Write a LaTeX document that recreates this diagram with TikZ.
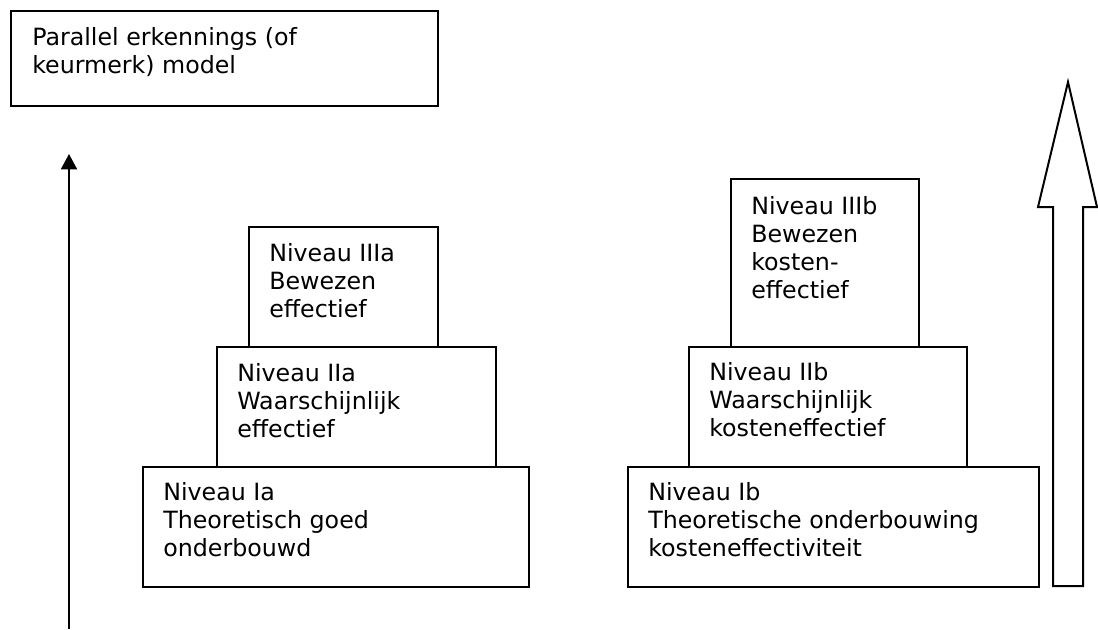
\documentclass[tikz,border=0pt]{standalone}
\usepackage{fontspec}
\setmainfont{DejaVu Sans}
\usetikzlibrary{arrows.meta}

\begin{document}
\begin{tikzpicture} [x = 0.75pt, y = -0.75pt,
     niveau/.style = {draw, line width=1.5pt, anchor=north west, inner sep=0pt},
     tekst/.style = {anchor=north west, inner sep=0pt, align=left,
          font=\fontsize{17.8pt}{21pt}\selectfont}]
     \useasboundingbox (0,0) rectangle (1098,629);

     % kader bovenaan
     \node [niveau, minimum width=427*0.75pt, minimum height=95*0.75pt] (model) at (10,10) {};
     \node [tekst] (model tekst) at ([shift={(22,17)}]model.north west) {Parallel erkennings (of\\keurmerk) model};

     % linker piramide
     \node [niveau, minimum width=386*0.75pt, minimum height=120*0.75pt] (ia) at (142,466) {};
     \node [niveau, minimum width=279*0.75pt, minimum height=120*0.75pt] (iia) at (216,346) {};
     \node [niveau, minimum width=189*0.75pt, minimum height=120*0.75pt] (iiia) at (248,226) {};
     \node [tekst] (ia tekst) at ([shift={(21,16)}]ia.north west) {Niveau Ia\\Theoretisch goed\\onderbouwd};
     \node [tekst] (iia tekst) at ([shift={(21,17)}]iia.north west) {Niveau IIa\\Waarschijnlijk\\effectief};
     \node [tekst] (iiia tekst) at ([shift={(21,17)}]iiia.north west) {Niveau IIIa\\Bewezen\\effectief};

     % rechter piramide
     \node [niveau, minimum width=411*0.75pt, minimum height=120*0.75pt] (ib) at (627,466) {};
     \node [niveau, minimum width=278*0.75pt, minimum height=120*0.75pt] (iib) at (688,346) {};
     \node [niveau, minimum width=188*0.75pt, minimum height=168*0.75pt] (iiib) at (730,178) {};
     \node [tekst] (ib tekst) at ([shift={(21,16)}]ib.north west) {Niveau Ib\\Theoretische onderbouwing\\kosteneffectiviteit};
     \node [tekst] (iib tekst) at ([shift={(21,16)}]iib.north west) {Niveau IIb\\Waarschijnlijk\\kosteneffectief};
     \node [tekst] (iiib tekst) at ([shift={(21,18)}]iiib.north west) {Niveau IIIb\\Bewezen\\kosten-\\effectief};

     % pijlen
     \coordinate (pijl onder) at (69,629);
     \coordinate (pijl boven) at (69,154);
     \draw [line width=1.5pt, -{Triangle[length=11.5pt, width=12pt]}] (pijl onder) -- (pijl boven);

     \draw [line width=1.5pt, line join=miter] (1053,586) -- (1053,207) -- (1038,207) -- (1068,82)
          -- (1097,207) -- (1083,207) -- (1083,586) -- cycle;
\end{tikzpicture}
\end{document}
